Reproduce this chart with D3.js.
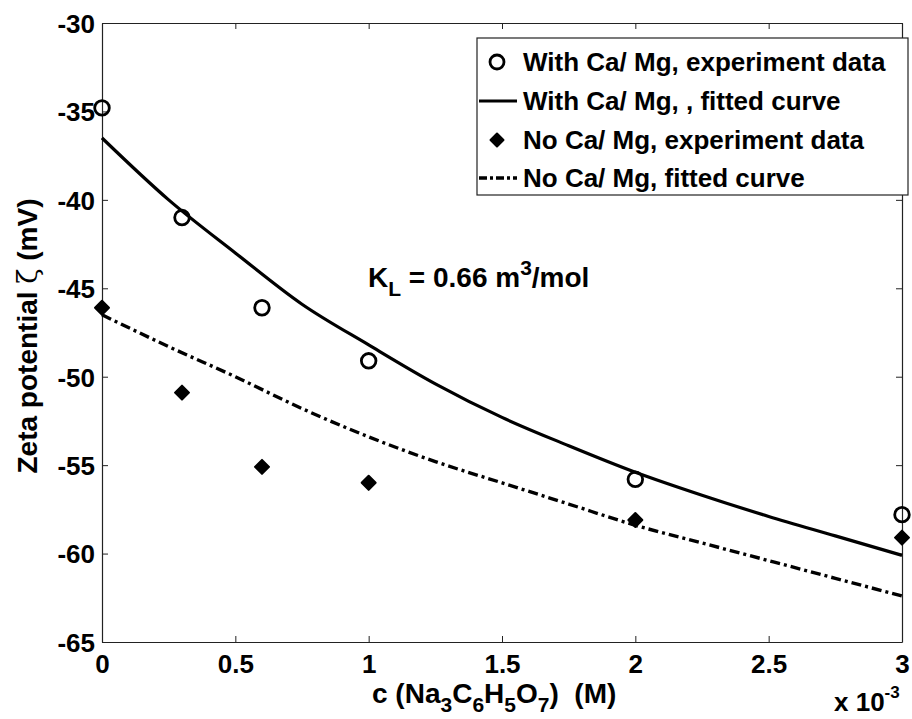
<!DOCTYPE html>
<html>
<head>
<meta charset="utf-8">
<script src="https://cdn.jsdelivr.net/npm/d3@7"></script>
<style>
  html, body { margin: 0; padding: 0; background: #fff; }
  svg { display: block; }
  text { font-family: "Liberation Sans", Arial, Helvetica, sans-serif; font-weight: bold; fill: #000; }
</style>
</head>
<body>
<svg id="chart" width="912" height="719"></svg>
<script>
// Citrate concentration of the measured samples (x 10^-3 M)
const concentration = [0, 0.3, 0.6, 1.0, 2.0, 3.0];
// Measured zeta potential (mV)
const zetaWithCaMg = [-34.8, -41.0, -46.1, -49.1, -55.8, -57.8];
const zetaNoCaMg   = [-46.1, -50.9, -55.1, -56.0, -58.1, -59.1];

// Fitted curves sampled along the concentration range
const fitConcentration = [0, 0.25, 0.5, 0.75, 1.0, 1.25, 1.5, 1.75, 2.0, 2.25, 2.5, 2.75, 3.0];
const fitWithCaMg = [-36.5, -40.0, -43.0, -45.9, -48.2, -50.4, -52.3, -53.9, -55.4, -56.7, -57.9, -59.0, -60.1];
const fitNoCaMg   = [-46.5, -48.3, -50.0, -51.8, -53.4, -54.8, -56.0, -57.2, -58.4, -59.4, -60.4, -61.4, -62.4];

const xTicks = [0, 0.5, 1, 1.5, 2, 2.5, 3];
const yTicks = [-65, -60, -55, -50, -45, -40, -35, -30];

const legendLabels = [
  "With Ca/ Mg, experiment data",
  "With Ca/ Mg, , fitted curve",
  "No Ca/ Mg, experiment data",
  "No Ca/ Mg, fitted curve"
];

const svg = d3.select("#chart");
const plotLeft = 102, plotRight = 902, plotTop = 23, plotBottom = 642;

const x = d3.scaleLinear().domain([0, 3]).range([plotLeft, plotRight]);
const y = d3.scaleLinear().domain([-65, -30]).range([plotBottom, plotTop]);

const fmt = d => String(d);

// Box frame with inward ticks on all four sides
const axisStyle = g => {
  g.select(".domain").attr("stroke", "#222").attr("stroke-width", 1.2);
  g.selectAll(".tick line").attr("stroke", "#222").attr("stroke-width", 1);
};

svg.append("g")
  .attr("transform", `translate(0,${y(-65)})`)
  .call(d3.axisBottom(x).tickValues(xTicks).tickFormat(fmt).tickSizeInner(-6).tickSizeOuter(0).tickPadding(13))
  .call(axisStyle)
  .call(g => g.selectAll(".tick text").attr("font-size", 26).attr("dy", "0.71em"));

svg.append("g")
  .attr("transform", `translate(0,${y(-30)})`)
  .call(d3.axisTop(x).tickValues(xTicks).tickFormat("").tickSizeInner(-6).tickSizeOuter(0))
  .call(axisStyle);

svg.append("g")
  .attr("transform", `translate(${x(0)},0)`)
  .call(d3.axisLeft(y).tickValues(yTicks).tickFormat(fmt).tickSizeInner(-6).tickSizeOuter(0).tickPadding(7))
  .call(axisStyle)
  .call(g => g.selectAll(".tick text").attr("font-size", 26).attr("dy", "0.36em"));

svg.append("g")
  .attr("transform", `translate(${x(3)},0)`)
  .call(d3.axisRight(y).tickValues(yTicks).tickFormat("").tickSizeInner(-6).tickSizeOuter(0))
  .call(axisStyle);

// Fitted curves
const line = d3.line().x(d => x(d[0])).y(d => y(d[1])).curve(d3.curveMonotoneX);
const solidPts = fitConcentration.map((c, i) => [c, fitWithCaMg[i]]);
const dashPts  = fitConcentration.map((c, i) => [c, fitNoCaMg[i]]);

svg.append("path")
  .attr("d", line(solidPts))
  .attr("fill", "none").attr("stroke", "#000").attr("stroke-width", 3.2);

svg.append("path")
  .attr("d", line(dashPts))
  .attr("fill", "none").attr("stroke", "#000").attr("stroke-width", 3.4)
  .attr("stroke-dasharray", "10,4,3,4");

// Experimental points
const diamond = (cx, cy, r) => `M${cx},${cy - r}L${cx + r},${cy}L${cx},${cy + r}L${cx - r},${cy}Z`;

svg.append("g").selectAll("circle")
  .data(concentration.map((c, i) => [c, zetaWithCaMg[i]]))
  .join("circle")
  .attr("cx", d => x(d[0])).attr("cy", d => y(d[1])).attr("r", 7.3)
  .attr("fill", "none").attr("stroke", "#000").attr("stroke-width", 2.8);

svg.append("g").selectAll("path")
  .data(concentration.map((c, i) => [c, zetaNoCaMg[i]]))
  .join("path")
  .attr("d", d => diamond(x(d[0]), y(d[1]), 7))
  .attr("fill", "#000").attr("stroke", "#000").attr("stroke-width", 2).attr("stroke-linejoin", "round");

// Legend
const lg = svg.append("g");
lg.append("rect")
  .attr("x", 477).attr("y", 38).attr("width", 431).attr("height", 157)
  .attr("fill", "#fff").attr("stroke", "#222").attr("stroke-width", 1.2);
const rowY = [62, 101, 140, 178];
legendLabels.forEach((t, i) => {
  lg.append("text").attr("x", 523).attr("y", rowY[i]).attr("dy", "0.36em")
    .attr("font-size", 26).text(t);
});
lg.append("circle").attr("cx", 497).attr("cy", rowY[0]).attr("r", 7)
  .attr("fill", "none").attr("stroke", "#000").attr("stroke-width", 2.8);
lg.append("line").attr("x1", 479).attr("x2", 517).attr("y1", rowY[1]).attr("y2", rowY[1])
  .attr("stroke", "#000").attr("stroke-width", 3.2);
lg.append("path").attr("d", diamond(497, rowY[2], 6.5))
  .attr("fill", "#000").attr("stroke", "#000").attr("stroke-width", 2).attr("stroke-linejoin", "round");
lg.append("line").attr("x1", 479).attr("x2", 517).attr("y1", rowY[3]).attr("y2", rowY[3])
  .attr("stroke", "#000").attr("stroke-width", 3.4).attr("stroke-dasharray", "8,3,3,3");

// Annotation of the Langmuir constant
const kl = svg.append("text").attr("x", 368).attr("y", 287).attr("font-size", 28);
kl.append("tspan").text("K");
kl.append("tspan").attr("font-size", 21).attr("dy", 9).text("L");
kl.append("tspan").attr("dy", -9).text(" = 0.66 m");
kl.append("tspan").attr("font-size", 21).attr("dy", -12).text("3");
kl.append("tspan").attr("dy", 12).text("/mol");

// Axis titles
const yl = svg.append("text")
  .attr("transform", `translate(37,336) rotate(-90)`)
  .attr("text-anchor", "middle").attr("font-size", 28);
yl.append("tspan").text("Zeta potential ");
yl.append("tspan").attr("font-weight", "normal").attr("font-family", "DejaVu Serif, serif").text("ζ");
yl.append("tspan").text(" (mV)");

const xl = svg.append("text").attr("x", 372).attr("y", 703).attr("font-size", 28);
xl.append("tspan").text("c (Na");
xl.append("tspan").attr("font-size", 21).attr("dy", 9).text("3");
xl.append("tspan").attr("dy", -9).text("C");
xl.append("tspan").attr("font-size", 21).attr("dy", 9).text("6");
xl.append("tspan").attr("dy", -9).text("H");
xl.append("tspan").attr("font-size", 21).attr("dy", 9).text("5");
xl.append("tspan").attr("dy", -9).text("O");
xl.append("tspan").attr("font-size", 21).attr("dy", 9).text("7");
xl.append("tspan").attr("dy", -9).text(")\u00a0\u00a0(M)");

const mult = svg.append("text").attr("x", 834).attr("y", 711).attr("font-size", 26);
mult.append("tspan").text("x 10");
mult.append("tspan").attr("font-size", 17).attr("dy", -13).text("-3");
</script>
</body>
</html>
